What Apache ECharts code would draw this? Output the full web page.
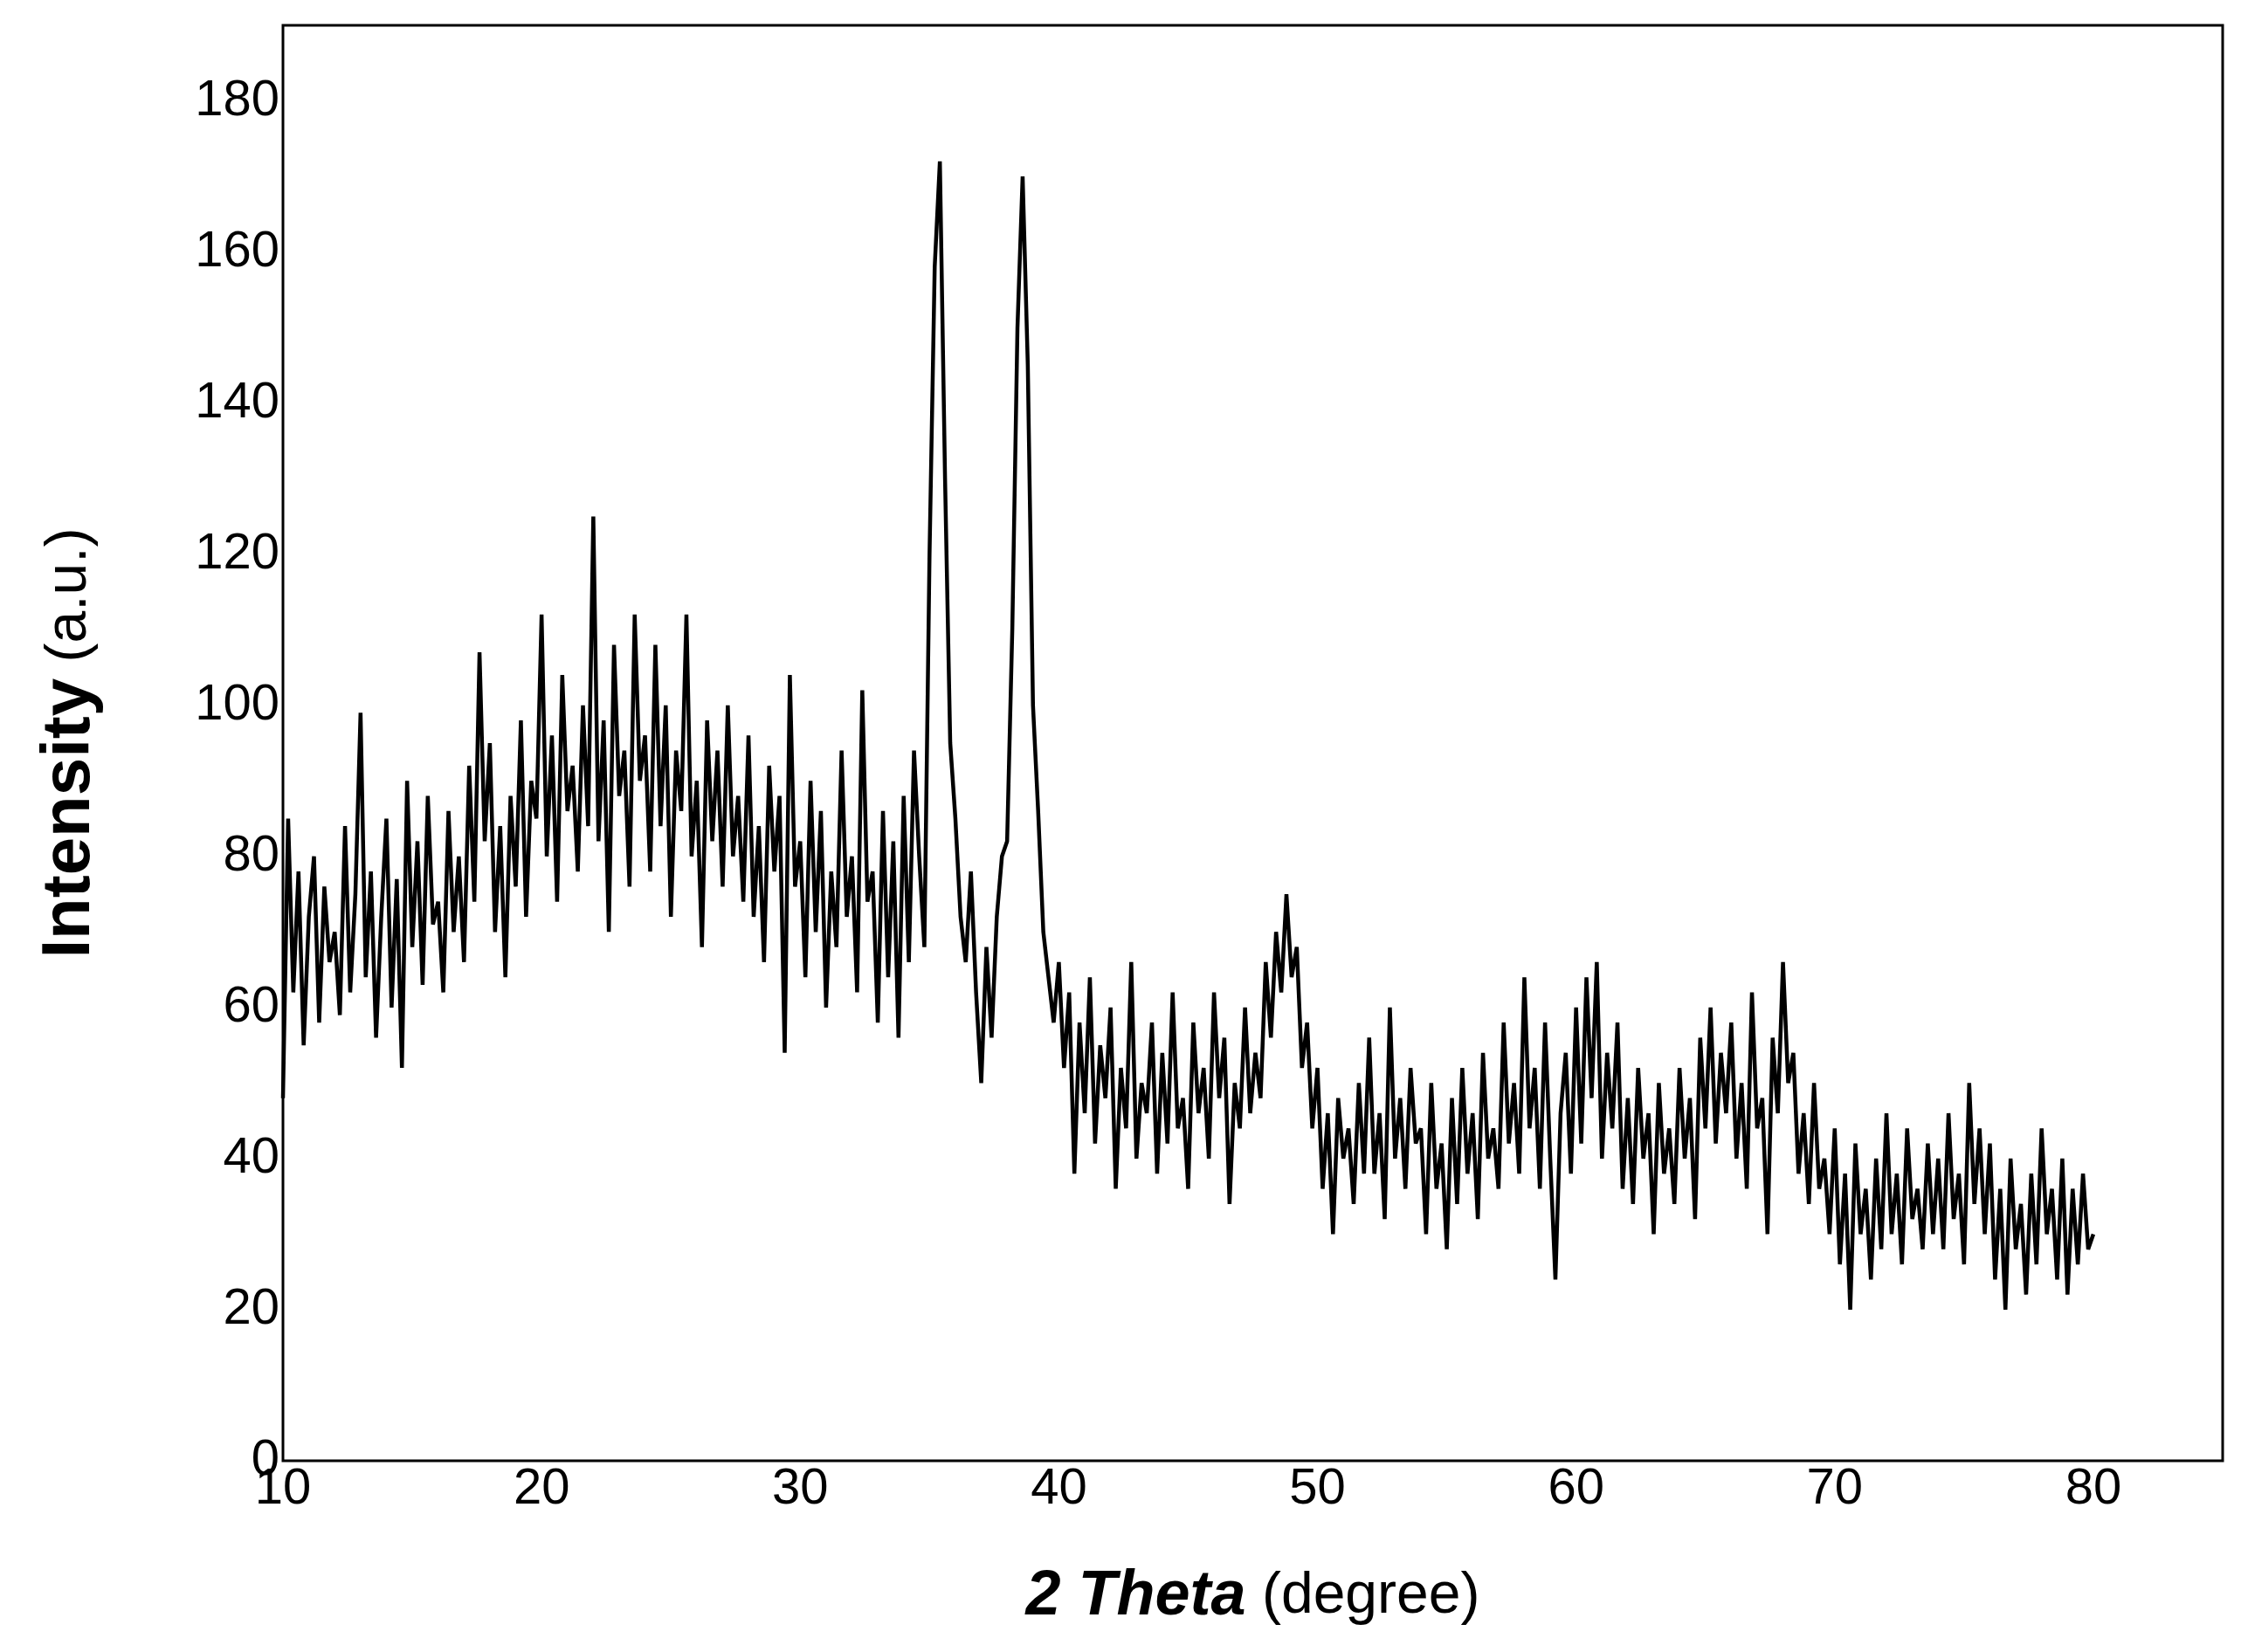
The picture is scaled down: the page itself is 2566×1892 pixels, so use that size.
<!DOCTYPE html>
<html><head><meta charset="utf-8">
<script src="https://cdn.jsdelivr.net/npm/echarts@6/dist/echarts.min.js"></script>
<style>html,body{margin:0;padding:0;background:#fff}#c{width:2566px;height:1892px}</style>
</head><body><div id="c"></div>
<script>
const xStart = 10, xStep = 0.2;
const intensity = [
48,85,62,78,55,72,80,58,76,66,
70,59,84,62,75,99,64,78,56,72,
85,60,77,52,90,68,82,63,88,71,
74,62,86,70,80,66,92,74,107,82,
95,70,84,64,88,76,98,72,90,85,
112,80,96,74,104,86,92,78,100,84,
125,82,98,70,108,88,94,76,112,90,
96,78,108,84,100,72,94,86,112,80,
90,68,98,82,94,76,100,80,88,74,
96,72,84,66,92,78,88,54,104,76,
82,64,90,70,86,60,78,68,94,72,
80,62,102,74,78,58,86,64,82,56,
88,66,94,80,68,120,158,172,130,95,
85,72,66,78,62,50,68,56,72,80,
82,110,150,170,145,100,86,70,64,58,
66,52,62,38,58,46,64,42,55,48,
60,36,52,44,66,40,50,46,58,38,
54,42,62,44,48,36,58,46,52,40,
62,48,56,34,50,44,60,46,54,48,
66,56,70,62,75,64,68,52,58,44,
52,36,46,30,48,40,44,34,50,38,
56,38,46,32,60,40,48,36,52,42,
44,30,50,36,42,28,48,34,52,38,
46,32,54,40,44,36,58,42,50,38,
64,44,52,36,58,40,24,46,54,38,
60,42,64,48,66,40,54,44,58,36,
48,34,52,40,46,30,50,38,44,34,
52,40,48,32,56,44,60,42,54,46,
58,40,50,36,62,44,48,30,56,46,
66,50,54,38,46,34,50,36,40,30,
44,26,38,20,42,30,36,24,40,28,
46,30,38,26,44,32,36,28,42,30,
40,28,46,32,38,26,50,34,44,30,
42,24,36,20,40,28,34,22,38,26,
44,30,36,24,40,22,36,26,38,28,
30];
const data = intensity.map((v,i)=>[+(xStart+i*xStep).toFixed(1), v]);
const chart = echarts.init(document.getElementById('c'));
const F = 'Liberation Sans, Arial, sans-serif';
chart.setOption({
  animation:false,
  grid:{left:324,right:21,top:29,bottom:219,show:true,borderColor:'#000',borderWidth:3},
  xAxis:{type:'value',min:10,max:85,interval:10,
    axisLine:{show:false},axisTick:{show:false},splitLine:{show:false},
    axisLabel:{color:'#000',fontSize:58,fontFamily:F,margin:4,
      formatter:v=>v<=80?String(v):''},
    name:'{b|2 Theta}{n| (degree)}',nameLocation:'middle',nameGap:120,
    nameTextStyle:{rich:{b:{fontSize:72,fontWeight:'bold',fontStyle:'italic',fontFamily:F,color:'#000'},
      n:{fontSize:66,fontFamily:F,color:'#000'}}}},
  yAxis:{type:'value',min:0,max:190,interval:20,
    axisLine:{show:false},axisTick:{show:false},splitLine:{show:false},
    axisLabel:{color:'#000',fontSize:58,fontFamily:F,margin:4,
      formatter:v=>v<=180?String(v):''},
    name:'{b|Intensity}{n| (a.u.)}',nameLocation:'middle',nameGap:205,
    nameTextStyle:{rich:{b:{fontSize:78,fontWeight:'bold',fontFamily:F,color:'#000'},
      n:{fontSize:66,fontFamily:F,color:'#000'}}}},
  series:[{type:'line',data:data,symbol:'none',lineStyle:{color:'#000',width:4.5}}]
});
</script></body></html>
